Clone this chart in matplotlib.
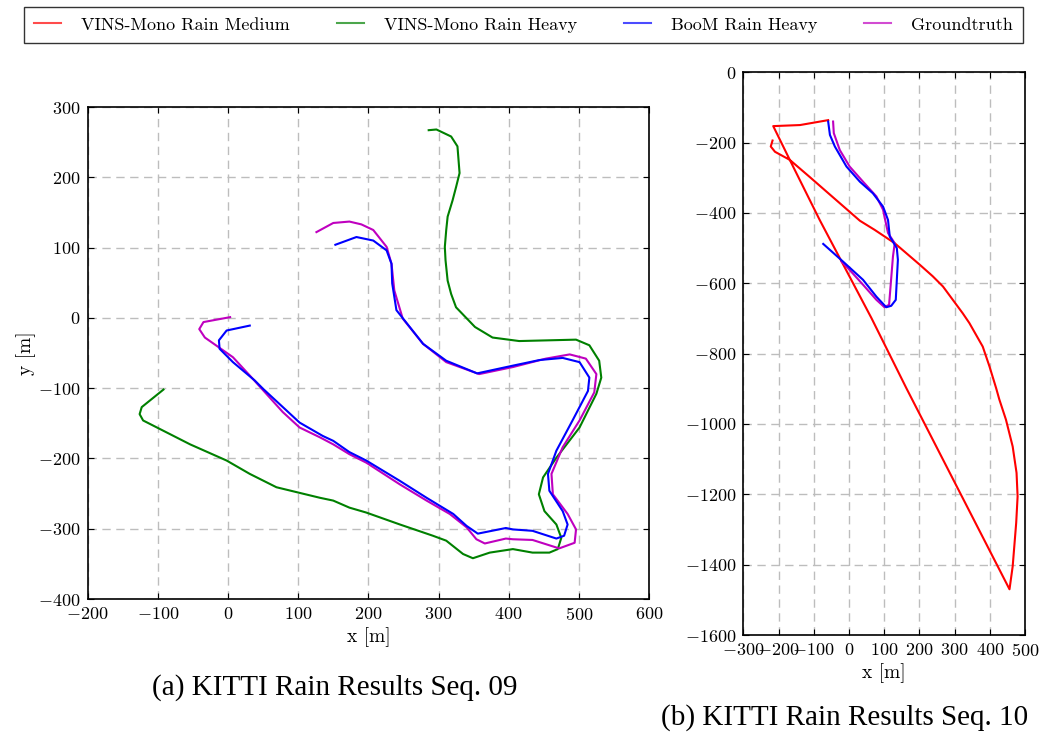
import matplotlib
matplotlib.use("Agg")
import matplotlib.pyplot as plt
from matplotlib.lines import Line2D

plt.rcParams["font.family"] = ["cmr10", "DejaVu Serif"]
plt.rcParams["mathtext.fontset"] = "cm"
plt.rcParams["axes.formatter.use_mathtext"] = True
plt.rcParams["axes.unicode_minus"] = True

LABELS = ["VINS-Mono Rain Medium", "VINS-Mono Rain Heavy", "BooM Rain Heavy", "Groundtruth"]
COLORS = ["#ff0000", "#008000", "#0000ff", "#bf00bf"]

# ---- Seq. 09 trajectories (x, y in metres)
seq09_gt_x = [3, -35, -41, -33, 7, 31, 50, 78, 102, 131, 150, 173, 197, 245, 283, 316, 340,
              354, 366, 396, 406, 434, 472, 494, 496, 484, 463, 461, 477, 501, 522, 525, 510,
              487, 453, 406, 358, 311, 278, 249, 237, 233, 226, 207, 190, 173, 150, 126]
seq09_gt_y = [1, -6, -16, -28, -56, -82, -103, -134, -156, -170, -180, -194, -206, -237, -260,
              -279, -298, -315, -321, -314, -315, -316, -328, -320, -301, -279, -251, -222, -184,
              -146, -106, -80, -58, -52, -58, -70, -80, -63, -37, -1, 39, 77, 101, 125, 133,
              137, 135, 122]

seq09_boom_x = [31, -2, -13, -12, 7, 38, 50, 102, 135, 150, 173, 197, 245, 283, 321, 340, 356,
                396, 406, 434, 468, 479, 484, 477, 458, 456, 468, 491, 513, 515, 501, 477, 444,
                406, 355, 311, 278, 240, 234, 233, 226, 207, 183, 153]
seq09_boom_y = [-11, -18, -32, -44, -63, -89, -101, -149, -168, -175, -191, -203, -232, -256,
                -279, -296, -307, -299, -301, -303, -314, -310, -294, -275, -246, -222, -189,
                -146, -104, -85, -63, -57, -60, -68, -79, -61, -37, 11, 49, 77, 96, 110, 115, 104]

seq09_heavy_x = [286, 297, 318, 327, 330, 325, 320, 313, 311, 309, 310, 313, 318, 325, 352, 377,
                 415, 496, 515, 529, 532, 525, 501, 468, 449, 443, 451, 468, 475, 470, 458, 434,
                 406, 373, 349, 335, 311, 292, 245, 197, 173, 150, 131, 102, 69, 31, -2, -54,
                 -121, -126, -123, -92]
seq09_heavy_y = [267, 268, 258, 244, 206, 186, 167, 144, 125, 101, 82, 53, 34, 15, -13, -28, -33,
                 -31, -39, -61, -85, -108, -156, -199, -227, -251, -275, -294, -313, -329, -334,
                 -334, -329, -334, -342, -336, -317, -310, -294, -277, -270, -260, -256, -249,
                 -241, -222, -203, -180, -146, -137, -127, -102]

# ---- Seq. 10 trajectories
seq10_medium_x = [-217, -222, -210, -168, -111, -40, 31, 73, 130, 201, 238, 267, 295, 323, 342,
                  380, 399, 418, 427, 446, 465, 476, 479, 475, 465, 456, 163, 64, -83, -168,
                  -215, -139, -59]
seq10_medium_y = [-194, -211, -226, -249, -298, -360, -422, -448, -486, -547, -580, -609, -647,
                  -685, -713, -780, -836, -898, -930, -988, -1064, -1139, -1206, -1281, -1405,
                  -1470, -898, -699, -420, -249, -153, -150, -136]

seq10_boom_x = [-59, -54, -40, -7, 31, 68, 97, 111, 116, 136, 139, 133, 120, 106, 78, 40, -17, -73]
seq10_boom_y = [-140, -178, -211, -268, -311, -344, -382, -420, -467, -500, -533, -647, -664,
                -668, -638, -590, -538, -488]

seq10_gt_x = [-45, -43, -26, 2, 40, 78, 97, 104, 111, 130, 125, 114, 101, 78, 40, 2, -21]
seq10_gt_y = [-140, -173, -221, -268, -311, -353, -391, -425, -457, -486, -524, -661, -668,
              -647, -604, -562, -538]

W, H = 1040, 736
fig = plt.figure(figsize=(W / 100, H / 100), dpi=100)


def style_axes(ax):
    ax.grid(True, color="#bdbdbd", linestyle=(0, (6, 4)), linewidth=1.0)
    ax.set_axisbelow(True)
    ax.tick_params(direction="in", top=True, right=True, length=4, width=0.8,
                   labelsize=13, pad=5, colors="black")
    for side in ("bottom", "right"):
        ax.spines[side].set_linewidth(1.2)
    for side in ("top", "left"):
        ax.spines[side].set_linewidth(1.2)
        ax.spines[side].set_linestyle((0, (5, 1)))


ax1 = fig.add_axes([87.7 / W, 1 - 599 / H, (649 - 87.7) / W, (599 - 107) / H])
ax1.plot(seq09_heavy_x, seq09_heavy_y, color=COLORS[1], lw=1.5)
ax1.plot(seq09_gt_x, seq09_gt_y, color=COLORS[3], lw=1.5)
ax1.plot(seq09_boom_x, seq09_boom_y, color=COLORS[2], lw=1.5)
ax1.set_xlim(-200, 600)
ax1.set_ylim(-400, 300)
ax1.set_xticks(range(-200, 601, 100))
ax1.set_yticks(range(-400, 301, 100))
style_axes(ax1)
ax1.set_xlabel("x [m]", fontsize=14, labelpad=3)
ax1.set_ylabel("y [m]", fontsize=14, labelpad=2)

ax2 = fig.add_axes([743.3 / W, 1 - 635 / H, (1025 - 743.3) / W, (635 - 72.3) / H])
ax2.plot(seq10_medium_x, seq10_medium_y, color=COLORS[0], lw=1.5)
ax2.plot(seq10_gt_x, seq10_gt_y, color=COLORS[3], lw=1.5)
ax2.plot(seq10_boom_x, seq10_boom_y, color=COLORS[2], lw=1.5)
ax2.set_xlim(-300, 500)
ax2.set_ylim(-1600, 0)
ax2.set_xticks(range(-300, 501, 100))
ax2.set_yticks(range(-1600, 1, 200))
style_axes(ax2)
ax2.set_xlabel("x [m]", fontsize=14, labelpad=3)

handles = [Line2D([], [], color=c, lw=1.5, alpha=0.7) for c in COLORS]
leg = fig.legend(handles, LABELS, loc="upper left", bbox_to_anchor=(24 / W, 1 - 7 / H),
                 ncol=4, fontsize=13, frameon=True, fancybox=False, edgecolor="black",
                 handlelength=1.5, handletextpad=1.1, columnspacing=2.6, borderpad=0.55,
                 borderaxespad=0)
leg.get_frame().set_linewidth(1.0)

fig.text(335 / W, 1 - 688 / H, "(a) KITTI Rain Results Seq. 09", ha="center", va="center",
         family="Liberation Serif", fontsize=21)
fig.text(845 / W, 1 - 718 / H, "(b) KITTI Rain Results Seq. 10", ha="center", va="center",
         family="Liberation Serif", fontsize=21)

fig.savefig("out.png", dpi=100)
